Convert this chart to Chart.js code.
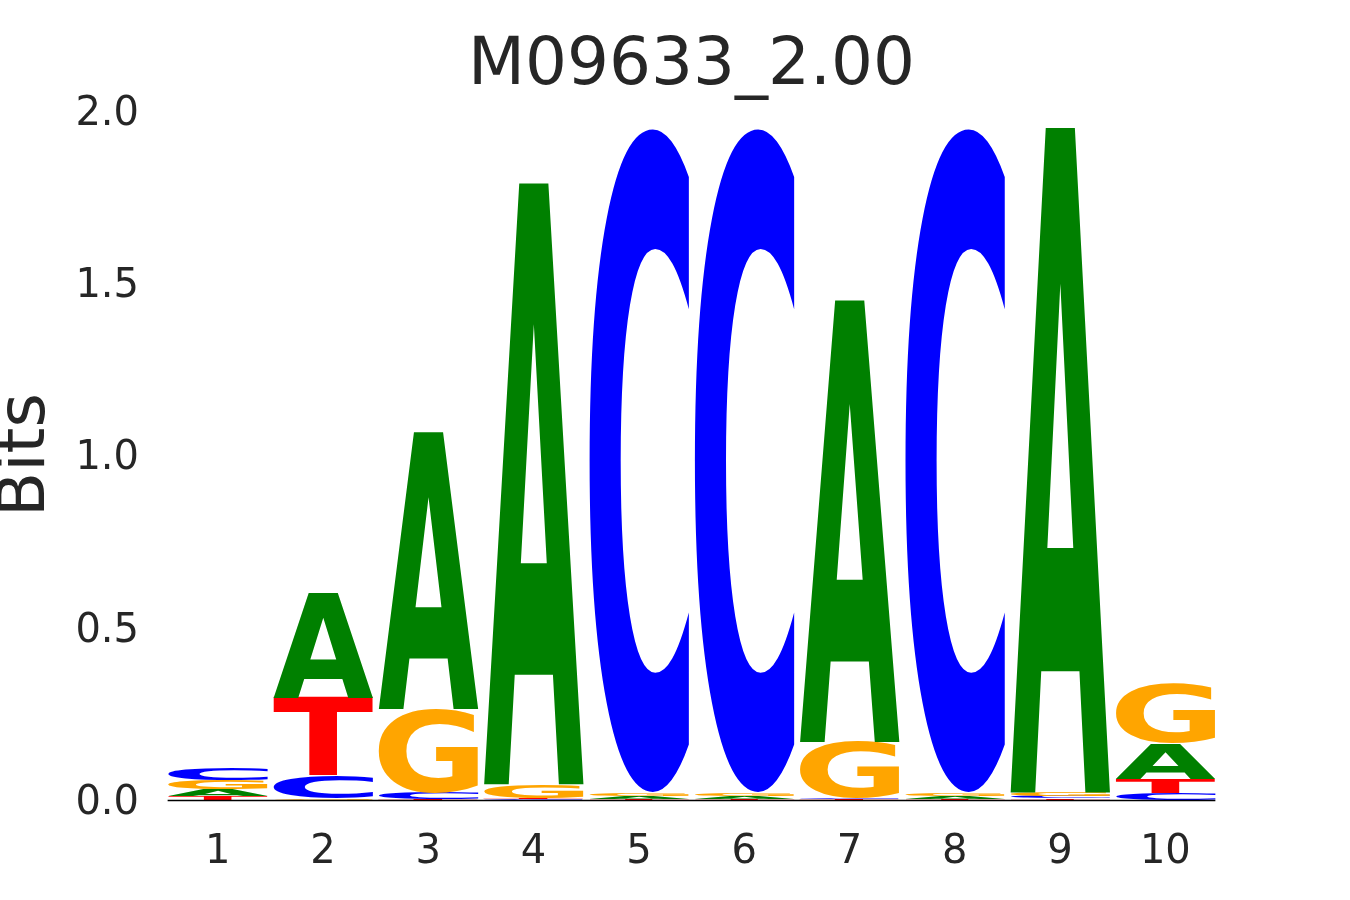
<!DOCTYPE html>
<html>
<head>
<meta charset="utf-8">
<script src="https://cdn.jsdelivr.net/npm/chart.js@4/dist/chart.umd.min.js"></script>
<style>
html, body { margin: 0; padding: 0; background: #fff; }
#wrap { width: 1350px; height: 900px; }
</style>
</head>
<body>
<div id="wrap"><canvas id="myChart"></canvas></div>
<script>
var positions = ['1', '2', '3', '4', '5', '6', '7', '8', '9', '10']

// information content per letter (bits)
var bitsA = [0.018, 0.307, 0.803, 1.744, 0.008, 0.008, 1.282, 0.008, 1.929, 0.103]
var bitsC = [0.036, 0.067, 0.017, 0.003, 1.930, 1.930, 0.003, 1.930, 0.006, 0.020]
var bitsG = [0.026, 0.004, 0.244, 0.040, 0.009, 0.009, 0.163, 0.009, 0.011, 0.174]
var bitsT = [0.012, 0.226, 0.003, 0.003, 0.004, 0.004, 0.002, 0.004, 0.005, 0.042]

var yTicks = [0, 0.5, 1, 1.5, 2]

var letterColor = { A: '#008000', C: '#0000ff', G: '#ffa500', T: '#ff0000' }
var textColor = '#262626'


/* stack each column smallest letter first */
var letters = ['A', 'C', 'G', 'T']
var heights = { A: bitsA, C: bitsC, G: bitsG, T: bitsT }
var rankData = [[], [], [], []]
var rankLetter = [[], [], [], []]

positions.forEach(function(p, i) {
	var col = letters.map(function(l) { return { l: l, h: heights[l][i] } })
	col.sort(function(a, b) { return a.h - b.h })
	col.forEach(function(c, r) {
		rankData[r].push(c.h)
		rankLetter[r].push(c.l)
	})
})

var datasets = rankData.map(function(d, r) {
	return {
		label: 'rank' + r,
		data: d,
		letters: rankLetter[r],
		backgroundColor: 'rgba(0,0,0,0)',
		borderWidth: 0,
		categoryPercentage: 1.0,
		barPercentage: 0.95
	}
})


/* draws a stretched letter into every bar box */
var glyphFont = 'bold 200px "DejaVu Sans"'
var glyphBox = {}

function measureGlyph(ctx, l) {
	if (!glyphBox[l]) {
		ctx.save()
		ctx.font = glyphFont
		var m = ctx.measureText(l)
		glyphBox[l] = {
			left: m.actualBoundingBoxLeft,
			right: m.actualBoundingBoxRight,
			asc: m.actualBoundingBoxAscent,
			desc: m.actualBoundingBoxDescent
		}
		ctx.restore()
	}
	return glyphBox[l]
}

var letterPlugin = {
	id: 'letters',
	afterDatasetsDraw: function(chart) {
		var ctx = chart.ctx
		var first = null, last = null
		chart.data.datasets.forEach(function(ds, di) {
			chart.getDatasetMeta(di).data.forEach(function(bar, i) {
				var p = bar.getProps(['x', 'y', 'base', 'width'], true)
				if (first == null || p.x - p.width / 2 < first) first = p.x - p.width / 2
				if (last == null || p.x + p.width / 2 > last) last = p.x + p.width / 2
				var h = p.base - p.y
				if (h <= 0) return
				var l = ds.letters[i]
				var g = measureGlyph(ctx, l)
				ctx.save()
				ctx.translate(p.x - p.width / 2, p.y)
				ctx.scale(p.width / (g.left + g.right), h / (g.asc + g.desc))
				ctx.font = glyphFont
				ctx.fillStyle = letterColor[l]
				ctx.textAlign = 'left'
				ctx.textBaseline = 'alphabetic'
				ctx.fillText(l, g.left, g.asc)
				ctx.restore()
			})
		})
		// baseline
		var y0 = chart.scales.y.getPixelForValue(0)
		ctx.save()
		ctx.strokeStyle = '#000'
		ctx.lineWidth = 1.5
		ctx.beginPath()
		ctx.moveTo(first, y0 + 0.5)
		ctx.lineTo(last, y0 + 0.5)
		ctx.stroke()
		ctx.restore()
	}
}


var ctx = document.getElementById('myChart').getContext('2d')
var chart = new Chart(ctx, {
	type: 'bar',
	data: {
		labels: positions,
		datasets: datasets
	},
	options: {
		responsive: true,
		maintainAspectRatio: false,
		animation: false,
		layout: { padding: { left: 0, right: 132, top: 0, bottom: 0 } },
		plugins: {
			legend: { display: false },
			tooltip: { enabled: false },
			title: {
				display: true,
				fullSize: false,
				text: 'M09633_2.00',
				color: textColor,
				font: { family: '"DejaVu Sans"', size: 66, weight: 'normal', lineHeight: 1.2 },
				padding: { top: 27, bottom: 4 }
			}
		},
		scales: {
			x: {
				stacked: true,
				grid: { display: false, drawTicks: false },
				border: { display: false },
				ticks: {
					color: textColor,
					font: { family: '"DejaVu Sans"', size: 40 },
					padding: 29
				},
				afterFit: function(scale) { scale.height = 100 }
			},
			y: {
				stacked: true,
				min: 0,
				max: 2,
				grid: { display: false, drawTicks: false },
				border: { display: false },
				afterBuildTicks: function(scale) {
					scale.ticks = yTicks.map(function(v) { return { value: v } })
				},
				ticks: {
					color: textColor,
					font: { family: '"DejaVu Sans"', size: 40, lineHeight: 0.2 },
					padding: 26,
					// empty first line nudges the label down a few px
					callback: function(v) { return ['', Number(v).toFixed(1)] }
				},
				title: {
					display: true,
					text: 'Bits',
					color: textColor,
					font: { family: '"DejaVu Sans"', size: 66, lineHeight: 0.72 },
					padding: { top: 3, bottom: 0 }
				},
				afterFit: function(scale) { scale.width = 165 }
			}
		}
	},
	plugins: [letterPlugin]
})
</script>
</body>
</html>
